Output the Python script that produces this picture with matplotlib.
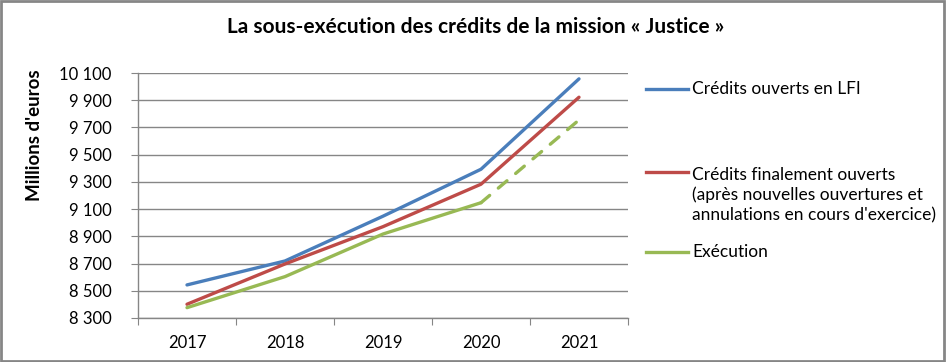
import matplotlib.pyplot as plt
from matplotlib.patches import Rectangle
from matplotlib.lines import Line2D
from matplotlib.ticker import FuncFormatter

years = ['2017', '2018', '2019', '2020', '2021']
lfi = [8543, 8719, 9048, 9393, 10057]
final = [8401, 8697, 8971, 9283, 9922]
execution = [8376, 8604, 8917, 9147, 9755]

labels = ['Crédits ouverts en LFI',
          "Crédits finalement ouverts\n(après nouvelles ouvertures et\nannulations en cours d'exercice)",
          'Exécution']
colors = ['#4A7EBB', '#BE4B48', '#98B954']

plt.rcParams['font.family'] = ['Lato', 'DejaVu Sans']

W, H = 946, 362
fig = plt.figure(figsize=(W / 100, H / 100), dpi=100)
ax = fig.add_axes([138 / W, 1 - 318 / H, 490 / W, 245 / H])

x = list(range(len(years)))
lw = 2.4
ax.plot(x, lfi, color=colors[0], lw=lw, solid_capstyle='round')
ax.plot(x, final, color=colors[1], lw=lw, solid_capstyle='round')
ax.plot(x[:4], execution[:4], color=colors[2], lw=lw, solid_capstyle='round')
ax.plot(x[3:], execution[3:], color=colors[2], lw=lw, ls=(0, (3.4, 3.4)),
        dash_capstyle='round')

ax.set_xlim(-0.5, 4.5)
ax.set_ylim(8300, 10100)
ax.set_yticks(range(8300, 10101, 200))
ax.yaxis.set_major_formatter(FuncFormatter(lambda v, p: f'{int(v):,}'.replace(',', ' ')))
ax.set_xticks([i - 0.5 for i in range(6)])
ax.set_xticklabels([])
ax.set_xticks(x, minor=True)
ax.set_xticklabels(years, minor=True)
ax.tick_params(axis='x', which='minor', length=0, pad=12, labelsize=12)
ax.tick_params(axis='x', which='major', length=5, color='#868686')
ax.tick_params(axis='y', length=5, color='#868686', labelsize=12, pad=14)

ax.grid(axis='y', color='#868686', lw=1)
ax.set_axisbelow(True)
for s in ['top', 'right']:
    ax.spines[s].set_visible(False)
for s in ['left', 'bottom']:
    ax.spines[s].set_color('#868686')
    ax.spines[s].set_linewidth(1)

fig.text(34 / W, 1 - 135 / H, "Millions d'euros", rotation=90, ha='center', va='center',
         fontsize=13.5, fontweight='bold')

fig.text(476 / W, 1 - 27 / H, 'La sous-exécution des crédits de la mission « Justice »',
         ha='center', va='center', fontsize=15, fontweight='bold')

# legend, drawn by hand to match the spacing of the original
handle_y = [89, 172, 252]
text_y = [89, 195, 252]
for c, lab, hy, ty in zip(colors, labels, handle_y, text_y):
    fig.add_artist(Line2D([646 / W, 688 / W], [1 - hy / H, 1 - hy / H], color=c, lw=lw,
                          transform=fig.transFigure))
    fig.text(692 / W, 1 - ty / H, lab, ha='left', va='center', fontsize=12.5,
             linespacing=1.3)

fig.add_artist(Rectangle((0.001, 0.002), 0.997, 0.995, transform=fig.transFigure,
                         fill=False, edgecolor='#868686', lw=2))

fig.savefig('out.png', dpi=100)
